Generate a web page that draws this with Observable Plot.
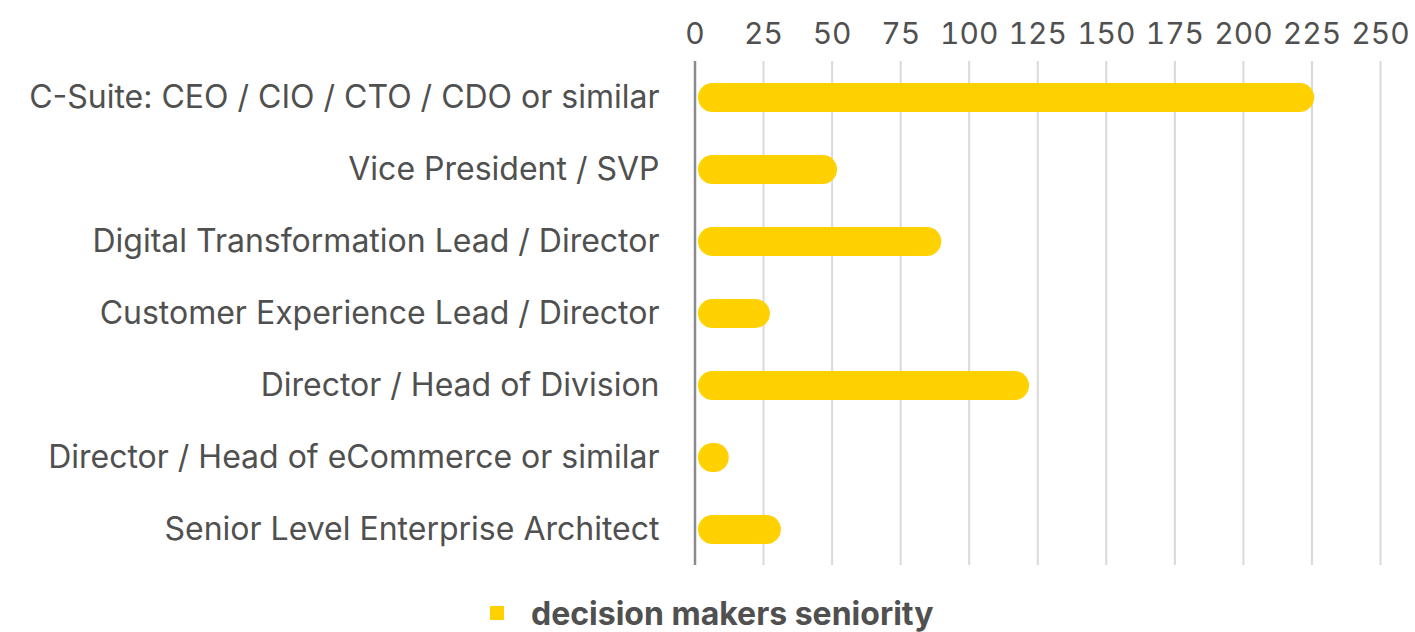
<!DOCTYPE html>
<html>
<head>
<meta charset="utf-8">
<script src="https://cdn.jsdelivr.net/npm/d3@7"></script>
<script src="https://cdn.jsdelivr.net/npm/@observablehq/plot@0.6"></script>
<style>
  html, body { margin: 0; padding: 0; background: #fff; overflow: hidden; }
  #chart svg { display: block; }
  .legend { display: flex; align-items: center; height: 52px; padding-top: 7px; font-family: Inter, "Noto Sans", sans-serif; font-weight: 700; font-size: 32px; color: #505050; }
  .swatch { width: 14px; height: 14px; background: #FFD100; margin-left: 490px; margin-right: 27px; }
</style>
</head>
<body>
<div id="chart"></div>
<div class="legend"><span class="swatch"></span><span>decision makers seniority</span></div>
<script>
const categories = [
  "C-Suite: CEO / CIO / CTO / CDO or similar",
  "Vice President / SVP",
  "Digital Transformation Lead / Director",
  "Customer Experience Lead / Director",
  "Director / Head of Division",
  "Director / Head of eCommerce or similar",
  "Senior Level Enterprise Architect"
];
const values = [226, 52, 90, 27.5, 122, 12.5, 31.5];
const xTicks = [0, 25, 50, 75, 100, 125, 150, 175, 200, 225, 250];
const seriesName = "decision makers seniority";

const data = categories.map((c, i) => ({category: c, value: values[i]}));

const chart = Plot.plot({
  width: 1415,
  height: 580,
  marginTop: 61,
  marginBottom: 15,
  marginLeft: 694.5,
  marginRight: 35,
  style: {fontFamily: "Inter, 'Noto Sans', sans-serif", color: "#505050", background: "#fff"},
  x: {domain: [0, 250], ticks: xTicks},
  y: {domain: categories, paddingInner: 0.6, paddingOuter: 0.3},
  marks: [
    Plot.gridX(xTicks.slice(1), {stroke: "#d9d9d9", strokeWidth: 2, strokeOpacity: 1}),
    Plot.barX(data, {x: "value", y: "category", fill: "#FFD100", rx: 14.4, insetLeft: 3.5}),
    Plot.ruleX([0], {stroke: "#8a8a92", strokeWidth: 2.5}),
    Plot.axisX(xTicks, {anchor: "top", tickSize: 0, tickPadding: 18, fontSize: 30, fill: "#505050", label: null}),
    Plot.axisY({tickSize: 0, tickPadding: 35.5, fontSize: 32, fill: "#505050", label: null})
  ]
});
document.getElementById("chart").appendChild(chart);
</script>
</body>
</html>
